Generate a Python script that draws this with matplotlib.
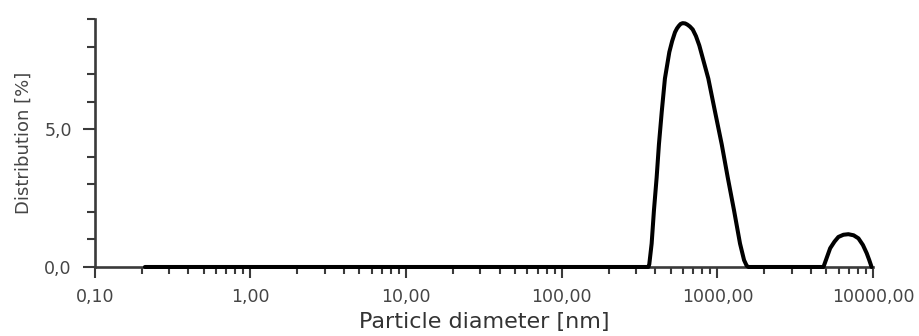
import matplotlib
matplotlib.use("Agg")
import matplotlib.pyplot as plt
from matplotlib.ticker import FixedLocator, FuncFormatter, LogLocator, NullFormatter, MultipleLocator

plt.rcParams['font.family'] = ['DejaVu Sans']

# Particle size distribution
diameter_nm = [0.21, 1.0, 10.0, 100.0, 360, 365, 378, 391, 407, 421, 439, 460, 491, 512, 534, 550, 565,
               580, 598, 620, 640, 665, 694, 728, 765, 874, 965, 1066, 1165, 1279, 1397, 1483, 1540, 1580,
               3000, 4800, 5050, 5300, 5650, 5985, 6450, 6940, 7500, 8050, 8600, 9100, 9450, 9780]
distribution_pct = [0.0, 0.0, 0.0, 0.0, 0.0, 0.1, 0.85, 2.05, 3.25, 4.45, 5.64, 6.84, 7.8, 8.2, 8.52, 8.66, 8.75,
                    8.82, 8.85, 8.84, 8.8, 8.73, 8.62, 8.38, 8.04, 6.84, 5.64, 4.45, 3.25, 2.05, 0.85, 0.25, 0.05, 0.0,
                    0.0, 0.0, 0.35, 0.68, 0.92, 1.09, 1.17, 1.19, 1.15, 1.04, 0.8, 0.5, 0.25, 0.0]

x_ticks = [0.1, 1, 10, 100, 1000, 10000]
y_ticks = [0.0, 5.0]

axis_color = '#3a3a3a'
text_color = '#454545'

fig = plt.figure(figsize=(9.2, 3.36), dpi=100)
ax = fig.add_axes([0.103, 0.2054, 0.846, 0.738])

ax.plot(diameter_nm, distribution_pct, color='black', linewidth=2.9,
        solid_joinstyle='round', solid_capstyle='round', zorder=5, clip_on=False)

ax.set_xscale('log')
ax.set_xlim(0.1, 10000)
ax.set_ylim(0, 9)

ax.xaxis.set_major_locator(FixedLocator(x_ticks))
ax.xaxis.set_major_formatter(FuncFormatter(lambda v, p: f"{v:.2f}".replace('.', ',')))
ax.xaxis.set_minor_locator(LogLocator(base=10, subs=range(2, 10), numticks=20))
ax.xaxis.set_minor_formatter(NullFormatter())

ax.yaxis.set_major_locator(FixedLocator(y_ticks))
ax.yaxis.set_major_formatter(FuncFormatter(lambda v, p: f"{v:.1f}".replace('.', ',')))
ax.yaxis.set_minor_locator(MultipleLocator(1))

for s in ['top', 'right']:
    ax.spines[s].set_visible(False)
for s in ['left', 'bottom']:
    ax.spines[s].set_color(axis_color)
    ax.spines[s].set_linewidth(1.9)

ax.tick_params(axis='x', which='major', direction='out', length=8, width=1.5,
               color=axis_color, labelcolor=text_color, labelsize=12.5, pad=7)
ax.tick_params(axis='x', which='minor', direction='out', length=5, width=1.5, color=axis_color)
ax.tick_params(axis='y', which='major', direction='out', length=8.6, width=1.5,
               color=axis_color, labelcolor=text_color, labelsize=12.5, pad=8)
ax.tick_params(axis='y', which='minor', direction='out', length=5.8, width=1.5, color=axis_color)

ax.set_xlabel('Particle diameter [nm]', fontsize=16, color='#333333')
ax.xaxis.set_label_coords(0.5, -0.182)
ax.set_ylabel('Distribution [%]', fontsize=13, color=text_color)
ax.yaxis.set_label_coords(-0.08, 0.5)

fig.savefig('out.png', dpi=100, facecolor='white')
